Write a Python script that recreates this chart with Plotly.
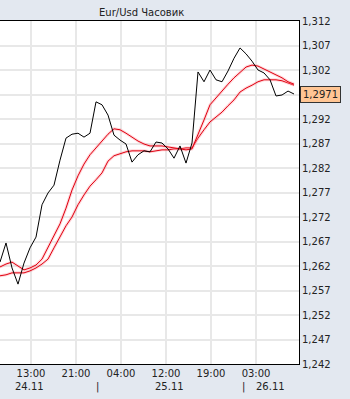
import plotly.graph_objects as go

title_text = "Eur/Usd Часовик"

bars = list(range(50))

price = [1.2628, 1.2667, 1.2616, 1.2583, 1.2626, 1.2657, 1.2679, 1.2745, 1.2769, 1.2785,
         1.2836, 1.2881, 1.2889, 1.2891, 1.2883, 1.2891, 1.2955, 1.2949, 1.2928, 1.2887,
         1.2877, 1.2869, 1.2832, 1.2847, 1.2855, 1.2853, 1.2873, 1.2871, 1.2859, 1.2840,
         1.2865, 1.2830, 1.2871, 1.3016, 1.2996, 1.3020, 1.3000, 1.2996, 1.3018, 1.3044,
         1.3065, 1.3053, 1.3038, 1.3020, 1.3014, 1.3000, 1.2967, 1.2969, 1.2977, 1.2971]

ma_fast = [1.2618, 1.2624, 1.2628, 1.2620, 1.2612, 1.2616, 1.2622, 1.2634, 1.2657, 1.2683,
           1.2706, 1.2738, 1.2775, 1.2804, 1.2828, 1.2847, 1.2861, 1.2873, 1.2889, 1.2900,
           1.2898, 1.2891, 1.2883, 1.2875, 1.2869, 1.2865, 1.2865, 1.2865, 1.2863, 1.2861,
           1.2859, 1.2857, 1.2859, 1.2887, 1.2918, 1.2949, 1.2963, 1.2979, 1.2991, 1.3004,
           1.3016, 1.3026, 1.3030, 1.3028, 1.3022, 1.3016, 1.3010, 1.3004, 1.2996, 1.2991]

ma_slow = [1.2600, 1.2602, 1.2606, 1.2606, 1.2606, 1.2610, 1.2616, 1.2624, 1.2634, 1.2657,
           1.2679, 1.2702, 1.2720, 1.2745, 1.2765, 1.2783, 1.2796, 1.2810, 1.2834, 1.2845,
           1.2849, 1.2853, 1.2855, 1.2855, 1.2855, 1.2853, 1.2855, 1.2857, 1.2857, 1.2859,
           1.2859, 1.2861, 1.2861, 1.2881, 1.2898, 1.2914, 1.2924, 1.2934, 1.2947, 1.2959,
           1.2975, 1.2983, 1.2989, 1.2996, 1.3000, 1.3000, 1.3000, 1.2998, 1.2994, 1.2989]

time_ticks = ["13:00", "21:00", "04:00", "12:00", "19:00", "03:00"]
tick_pos = [5.17, 12.67, 20.17, 27.67, 35.17, 42.67]
date_labels = ["24.11", "25.11", "26.11"]
date_pos = [4.9, 28.3, 45.0]
day_breaks = [16.3, 40.5]

y_ticks = [1.242, 1.247, 1.252, 1.257, 1.262, 1.267, 1.272, 1.277,
           1.282, 1.287, 1.292, 1.297, 1.302, 1.307, 1.312]
# the 1,297 label is hidden behind the last-price box in the reference
y_labels = ["" if v == 1.297 else f"{v:.3f}".replace(".", ",") for v in y_ticks]

FONT = "DejaVu Sans"
BG = "#E3E8F0"

fig = go.Figure()
for ma in (ma_slow, ma_fast):
    fig.add_trace(go.Scatter(x=bars, y=ma, mode="lines",
                             line=dict(color="rgba(255,140,150,0.35)", width=3),
                             hoverinfo="skip", showlegend=False))
    fig.add_trace(go.Scatter(x=bars, y=ma, mode="lines",
                             line=dict(color="#E00010", width=1),
                             showlegend=False))
fig.add_trace(go.Scatter(x=bars, y=price, mode="lines",
                         line=dict(color="black", width=1), showlegend=False))

annotations = []
for lbl, pos in zip(date_labels, date_pos):
    annotations.append(dict(x=pos, y=-0.045, xref="x", yref="paper", text=lbl,
                            showarrow=False, yanchor="top", xanchor="center",
                            font=dict(family=FONT, size=10, color="#222")))
for pos in day_breaks:
    annotations.append(dict(x=pos, y=-0.045, xref="x", yref="paper", text="|",
                            showarrow=False, yanchor="top", xanchor="center",
                            font=dict(family=FONT, size=10, color="#222")))
annotations.append(dict(x=1, y=price[-1], xref="paper", yref="y",
                        text=f"{price[-1]:.4f}".replace(".", ","),
                        showarrow=False, xanchor="left", xshift=1,
                        bgcolor="#FFC594", bordercolor="#333", borderwidth=1,
                        borderpad=2, font=dict(family=FONT, size=10, color="#222")))
annotations.append(dict(x=0.472, y=1.0, xref="paper", yref="paper", text=title_text,
                        showarrow=False, yanchor="bottom", yshift=1,
                        font=dict(family=FONT, size=10, color="#222")))

fig.update_layout(
    width=350, height=399,
    margin=dict(l=0, r=51, t=21, b=35),
    paper_bgcolor=BG, plot_bgcolor="white",
    annotations=annotations,
    xaxis=dict(range=[0, 49.83], tickmode="array", tickvals=tick_pos, ticktext=time_ticks,
               showgrid=True, gridcolor="#E8E8E8", gridwidth=2, zeroline=False,
               showline=True, mirror=True, linecolor="black", linewidth=1,
               ticks="", tickfont=dict(family=FONT, size=10, color="#222")),
    yaxis=dict(range=[1.242, 1.312], side="right", tickmode="array", tickvals=y_ticks,
               ticktext=y_labels, showgrid=True, gridcolor="#E8E8E8", gridwidth=2,
               zeroline=False, showline=True, linecolor="black", linewidth=1,
               ticks="", tickfont=dict(family=FONT, size=10, color="#222")),
)

fig.write_html("out.html")
